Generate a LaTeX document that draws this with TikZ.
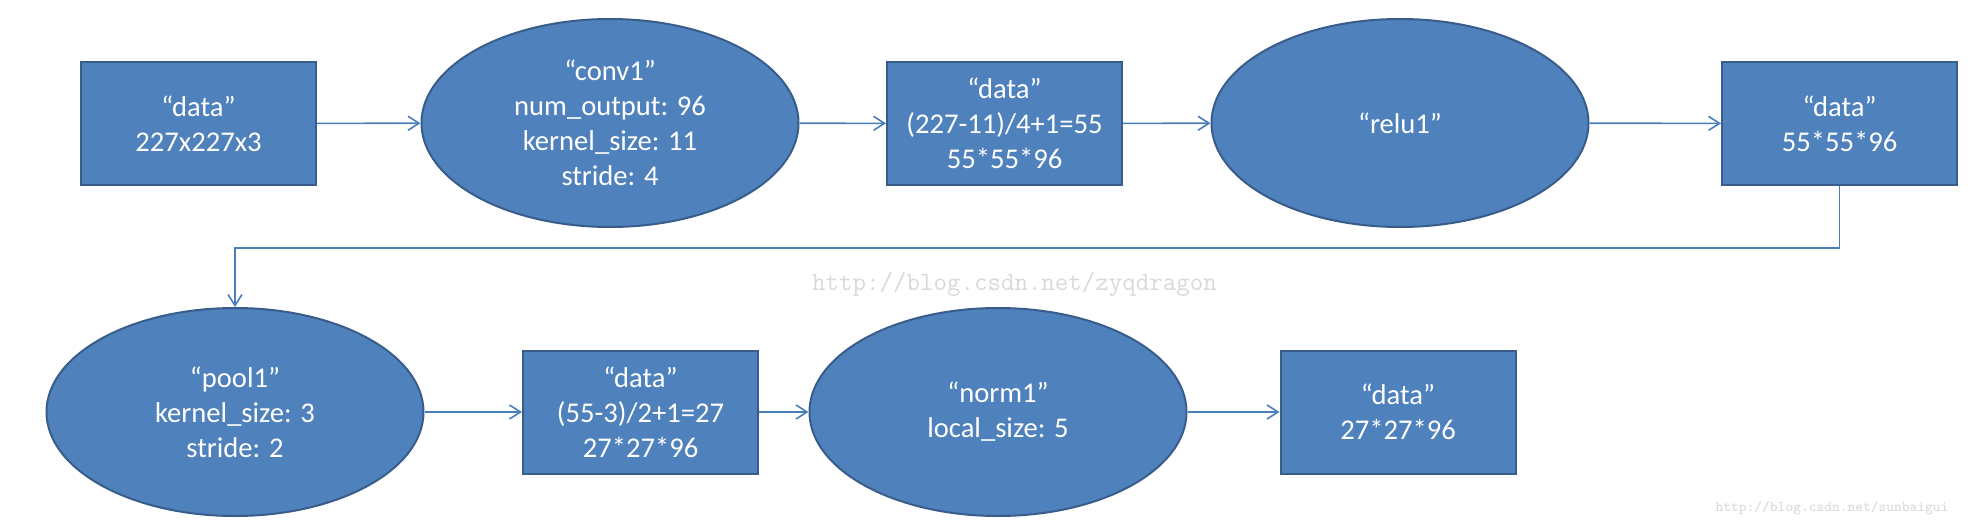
\documentclass[tikz,border=0pt]{standalone}
\usepackage{fontspec}
\setmainfont{Carlito}
\usetikzlibrary{shapes.geometric,arrows.meta}
\definecolor{boxfill}{HTML}{4F81BD}
\definecolor{boxdraw}{HTML}{385D8A}
\definecolor{conncol}{HTML}{4A7EBB}
\definecolor{wmcol}{HTML}{D9D9D9}
\begin{document}
\begin{tikzpicture}[x=0.5pt,y=-0.5pt,
  blk/.style={draw=boxdraw, fill=boxfill, line width=1pt, text=white,
    font=\fontsize{14.3}{17.5}\selectfont, align=center, inner sep=0pt},
  databox/.style={blk, rectangle, minimum width=117.5pt, minimum height=61.5pt},
  layer/.style={blk, ellipse, minimum width=188.5pt, minimum height=104pt},
  conn/.style={draw=conncol, line width=0.8pt, -{Straight Barb[length=5.5pt,width=7pt]}},
  wmark/.style={text=wmcol, inner sep=0pt}]
\useasboundingbox (0,0) rectangle (1988,530);
\fill[white] (0,0) rectangle (1988,530);

% top row
\node[databox] (d1) at (198.5,123.5) {“data”\\227x227x3};
\node[layer] (conv1) at (610,123) {“conv1”\\num\_output: 96\\kernel\_size: 11\\stride: 4};
\node[databox] (d2) at (1004.5,123.5) {“data”\\(227-11)/4+1=55\\55*55*96};
\node[layer] (relu1) at (1400,123) {“relu1”};
\node[databox] (d3) at (1839.5,123.5) {“data”\\55*55*96};

% bottom row
\node[layer] (pool1) at (235,412) {“pool1”\\kernel\_size: 3\\stride: 2};
\node[databox] (d4) at (640.5,412) {“data”\\(55-3)/2+1=27\\27*27*96};
\node[layer] (norm1) at (998,412) {“norm1”\\local\_size: 5};
\node[databox] (d5) at (1398,412) {“data”\\27*27*96};

% watermarks
\node[wmark, font=\ttfamily\fontsize{13.1}{15}\selectfont] (wm1) at (1014.5,284) {http://blog.csdn.net/zyqdragon};
\node[wmark, font=\ttfamily\fontsize{7.3}{9}\selectfont] (wm2) at (1832,508) {http://blog.csdn.net/sunbaigui};

% connectors
\draw[conn] (d1) -- (conv1);
\draw[conn] (conv1) -- (d2);
\draw[conn] (d2) -- (relu1);
\draw[conn] (relu1) -- (d3);
\coordinate (bend) at (235,248);
\draw[conn] (d3.south) |- (bend) -- (pool1.north);
\draw[conn] (pool1) -- (d4);
\draw[conn] (d4) -- (norm1);
\draw[conn] (norm1) -- (d5);
\end{tikzpicture}
\end{document}
